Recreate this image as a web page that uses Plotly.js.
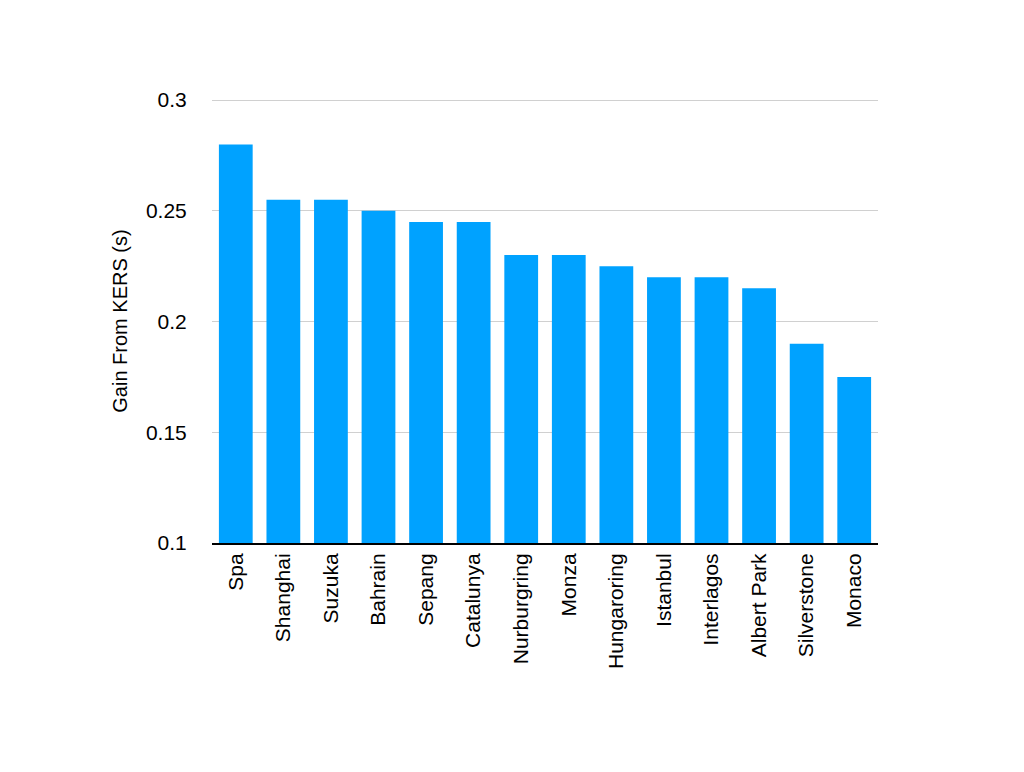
<!DOCTYPE html>
<html>
<head>
<meta charset="utf-8">
<script src="https://cdn.plot.ly/plotly-3.0.1.min.js"></script>
<style>
  html, body { margin: 0; padding: 0; background: #fff; }
  #chart { width: 1024px; height: 772px; }
</style>
</head>
<body>
<div id="chart"></div>
<script>
"use strict"
// circuits and the lap-time gain from KERS
let circuits = ['Spa', 'Shanghai', 'Suzuka', 'Bahrain', 'Sepang', 'Catalunya', 'Nurburgring',
    'Monza', 'Hungaroring', 'Istanbul', 'Interlagos', 'Albert Park', 'Silverstone', 'Monaco'];
let gain = [0.28, 0.255, 0.255, 0.25, 0.245, 0.245, 0.23, 0.23, 0.225, 0.22, 0.22, 0.215, 0.19, 0.175];
let yTicks = [0.1, 0.15, 0.2, 0.25, 0.3];

let chart = document.getElementById('chart');
let font = 'Liberation Sans, Arial, sans-serif';

var trace1 = {
    x: circuits,
    y: gain,
    type: 'bar',
    hoverinfo: 'none',
    marker: {
        color: '#00a2ff'
    }
};

var layout = {
    width: 1024,
    height: 772,
    margin: { l: 212, r: 146, t: 99, b: 229 },
    paper_bgcolor: '#fff',
    plot_bgcolor: '#fff',
    bargap: 0.29,
    showlegend: false,
    font: { family: font, color: '#000' },
    xaxis: {
        type: 'category',
        tickangle: -90,
        tickfont: { size: 21, family: font, color: '#000' },
        showgrid: false,
        showline: true,
        linecolor: '#000',
        linewidth: 2,
        ticks: '',
        ticklen: 0,
        automargin: false
    },
    yaxis: {
        range: [0.1, 0.3005],   // a hair over 0.3 so the top gridline is drawn
        tickvals: yTicks,
        ticktext: yTicks.map(String),
        tickfont: { size: 21, family: font, color: '#000' },
        showgrid: true,
        gridcolor: '#d0d0d0',
        gridwidth: 1,
        zeroline: false,
        showline: false,
        ticks: 'outside',
        ticklen: 20,
        tickcolor: 'rgba(0,0,0,0)',
        automargin: false,
        title: {
            text: 'Gain From KERS (s)',
            font: { size: 20, family: font, color: '#000' },
            standoff: 12
        }
    }
};

Plotly.newPlot(chart, [trace1], layout, { staticPlot: true });
</script>
</body>
</html>
